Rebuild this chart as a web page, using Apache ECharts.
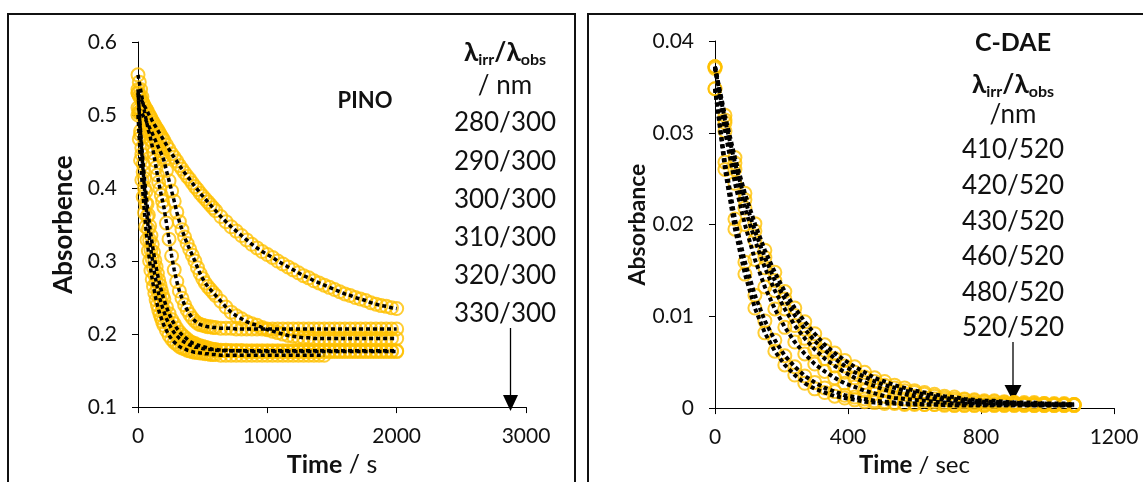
<!DOCTYPE html>
<html>
<head>
<meta charset="utf-8">
<script src="https://cdn.jsdelivr.net/npm/echarts@6/dist/echarts.min.js"></script>
<style>
  html, body { margin: 0; padding: 0; background: #fff; }
  #chart { width: 1143px; height: 482px; }
</style>
</head>
<body>
<div id="chart"></div>
<script>
// ---------- PINO panel: time axis (s) and absorbance at 300 nm ----------
const pinoTime = [0,10,20,30,40,50,60,70,80,90,100,110,120,130,140,150,160,170,180,190,200,
  220,240,260,280,300,320,340,360,380,400,420,440,460,480,500,520,540,560,580,600,
  640,680,720,760,800,840,880,920,960,1000,1040,1080,1120,1160,1200,1240,1280,1320,1360,1400,
  1440,1480,1520,1560,1600,1640,1680,1720,1760,1800,1840,1880,1920,1960,2000];

const pino280 = [0.530,0.526,0.523,0.519,0.516,0.512,0.509,0.506,0.502,0.499,0.496,0.492,0.489,0.486,0.483,0.480,0.477,0.474,0.471,0.468,0.465,
  0.459,0.453,0.447,0.442,0.437,0.431,0.426,0.421,0.416,0.412,0.407,0.402,0.398,0.393,0.389,0.385,0.381,0.377,0.373,0.369,
  0.361,0.354,0.347,0.341,0.335,0.329,0.323,0.318,0.313,0.309,0.305,0.300,0.296,0.292,0.288,0.284,0.280,0.277,0.273,0.270,
  0.267,0.264,0.261,0.258,0.255,0.253,0.250,0.248,0.246,0.243,0.241,0.239,0.238,0.236,0.235];

const pino290 = [0.510,0.508,0.505,0.502,0.499,0.496,0.493,0.489,0.486,0.482,0.479,0.475,0.471,0.467,0.463,0.459,0.455,0.451,0.447,0.443,0.438,
  0.424,0.410,0.396,0.382,0.367,0.354,0.343,0.333,0.324,0.316,0.308,0.300,0.291,0.283,0.276,0.270,0.265,0.261,0.257,0.253,
  0.245,0.237,0.230,0.225,0.221,0.217,0.214,0.212,0.209,0.206,0.204,0.202,0.200,0.198,0.197,0.196,0.195,0.195,0.194,0.194,
  0.194,0.194,0.194,0.194,0.194,0.194,0.194,0.194,0.194,0.194,0.194,0.194,0.194,0.194,0.194];

const pino300 = [0.555,0.545,0.535,0.525,0.515,0.505,0.496,0.488,0.479,0.474,0.466,0.457,0.448,0.438,0.428,0.418,0.408,0.399,0.390,0.382,0.374,
  0.352,0.330,0.307,0.288,0.272,0.259,0.249,0.240,0.233,0.227,0.222,0.218,0.215,0.213,0.212,0.211,0.210,0.210,0.209,0.209,
  0.208,0.208,0.208,0.207,0.207,0.207,0.207,0.207,0.207,0.207,0.207,0.207,0.207,0.207,0.207,0.207,0.207,0.207,0.207,0.207,
  0.207,0.207,0.207,0.207,0.207,0.207,0.207,0.207,0.207,0.207,0.207,0.207,0.207,0.207,0.207];

const pino310 = [0.530,0.503,0.478,0.455,0.433,0.413,0.395,0.378,0.363,0.348,0.335,0.323,0.312,0.301,0.292,0.283,0.274,0.267,0.260,0.253,0.248,
  0.237,0.228,0.220,0.214,0.208,0.203,0.199,0.196,0.193,0.190,0.188,0.187,0.185,0.184,0.183,0.182,0.181,0.180,0.179,0.179,
  0.178,0.178,0.177,0.177,0.177,0.176,0.176,0.176,0.176,0.176,0.176,0.176,0.176,0.176,0.176,0.176,0.176,0.176,0.176,0.176,
  0.176,0.176,0.176,0.176,0.176,0.176,0.176,0.176,0.176,0.176,0.176,0.176,0.176,0.176,0.176];

const pino320 = [0.535,0.503,0.473,0.446,0.422,0.400,0.379,0.361,0.344,0.329,0.315,0.303,0.291,0.281,0.272,0.263,0.255,0.248,0.242,0.236,0.231,
  0.221,0.214,0.207,0.202,0.198,0.194,0.191,0.189,0.187,0.185,0.184,0.182,0.182,0.181,0.180,0.180,0.179,0.179,0.178,0.178,
  0.177,0.177,0.177,0.177,0.177,0.177,0.177,0.177,0.177,0.177,0.177,0.177,0.177,0.177,0.177,0.177,0.177,0.177,0.177,0.177,
  0.177,0.177,0.177,0.177,0.177,0.177,0.177,0.177,0.177,0.177,0.177,0.177,0.177,0.177,0.177];

const pino330 = [0.500,0.467,0.438,0.411,0.388,0.366,0.347,0.329,0.314,0.300,0.287,0.275,0.265,0.256,0.247,0.240,0.233,0.227,0.222,0.217,0.212,
  0.205,0.198,0.193,0.189,0.186,0.183,0.181,0.180,0.178,0.177,0.176,0.175,0.175,0.174,0.174,0.173,0.173,0.172,0.172,0.172,
  0.171,0.171,0.171,0.171,0.171,0.171,0.171,0.171,0.171,0.171,0.171,0.171,0.171,0.171,0.171,0.171,0.171,0.171,0.171,0.171,
  0.171,null,null,null,null,null,null,null,null,null,null,null,null,null,null];

const pinoSeries = [pino280, pino290, pino300, pino310, pino320, pino330];
const pinoLabels = ['280/300','290/300','300/300','310/300','320/300','330/300'];

// ---------- C-DAE panel: time axis (sec) and absorbance at 520 nm ----------
const daeTime = [0,30,60,90,120,150,180,210,240,270,300,330,360,390,420,450,480,510,540,570,600,
  630,660,690,720,750,780,810,840,870,900,930,960,990,1020,1050,1080];

const dae410 = [0.0372,0.0319,0.0273,0.0234,0.0201,0.0172,0.0148,0.0127,0.0109,0.0094,0.0081,0.0069,0.0060,0.0052,0.0045,0.0039,0.0033,0.0029,0.0025,0.0022,0.0019,
  0.0017,0.0015,0.0013,0.0012,0.0010,0.0009,0.0008,0.0008,0.0007,0.0006,0.0006,0.0006,0.0005,0.0005,0.0005,0.0004];
const dae420 = [0.0370,0.0314,0.0267,0.0227,0.0193,0.0164,0.0139,0.0119,0.0101,0.0086,0.0073,0.0063,0.0054,0.0046,0.0039,0.0034,0.0029,0.0025,0.0022,0.0019,0.0017,
  0.0015,0.0013,0.0011,0.0010,0.0009,0.0008,0.0007,0.0007,0.0006,0.0006,0.0005,0.0005,0.0005,0.0004,0.0004,0.0004];
const dae430 = [0.0372,0.0311,0.0260,0.0218,0.0183,0.0153,0.0128,0.0108,0.0090,0.0076,0.0064,0.0054,0.0046,0.0039,0.0033,0.0028,0.0024,0.0020,0.0017,0.0015,0.0013,
  0.0011,0.0010,0.0009,0.0008,0.0007,0.0006,0.0006,0.0005,0.0005,0.0005,0.0004,0.0004,0.0004,0.0004,0.0004,0.0004];
const dae460 = [0.0372,0.0302,0.0245,0.0200,0.0162,0.0132,0.0108,0.0088,0.0072,0.0059,0.0048,0.0040,0.0033,0.0027,0.0023,0.0019,0.0016,0.0013,0.0011,0.0010,0.0009,
  0.0008,0.0007,0.0006,0.0005,0.0005,0.0005,0.0004,0.0004,0.0004,0.0004,0.0004,0.0003,0.0003,0.0003,0.0003,0.0003];
const dae480 = [0.0348,0.0268,0.0206,0.0159,0.0123,0.0095,0.0074,0.0057,0.0045,0.0035,0.0028,0.0022,0.0018,0.0014,0.0012,0.0010,0.0008,0.0007,0.0006,0.0005,0.0005,
  0.0004,0.0004,0.0004,0.0003,0.0003,0.0003,0.0003,0.0003,0.0003,0.0003,0.0003,0.0003,0.0003,0.0003,0.0003,0.0003];
const dae520 = [0.0348,0.0260,0.0195,0.0146,0.0109,0.0082,0.0062,0.0047,0.0036,0.0027,0.0021,0.0017,0.0013,0.0011,0.0009,0.0007,0.0006,0.0005,0.0005,0.0004,0.0004,
  0.0004,0.0004,0.0003,0.0003,0.0003,0.0003,0.0003,0.0003,0.0003,0.0003,0.0003,0.0003,0.0003,0.0003,0.0003,0.0003];

const daeSeries = [dae410, dae420, dae430, dae460, dae480, dae520];
const daeLabels = ['410/520','420/520','430/520','460/520','480/520','520/520'];

// ---------- build chart ----------
const FONT = 'Lato, "Open Sans", sans-serif';
const MARK = '#FFC000';
const INK = '#111';

function pairs(t, v) {
  const out = [];
  for (let i = 0; i < t.length; i++) if (v[i] != null) out.push([t[i], v[i]]);
  return out;
}

function panelSeries(times, sets, axis, lineW, dash) {
  const out = [];
  sets.forEach(v => {
    out.push({
      type: 'scatter', xAxisIndex: axis, yAxisIndex: axis, data: pairs(times, v),
      symbol: 'circle', symbolSize: 13, silent: true, z: 2,
      itemStyle: { color: 'rgba(255,255,255,0)', borderColor: MARK, borderWidth: 2 }
    });
  });
  sets.forEach(v => {
    out.push({
      type: 'line', xAxisIndex: axis, yAxisIndex: axis, data: pairs(times, v),
      showSymbol: false, silent: true, z: 3,
      lineStyle: { color: '#000', width: lineW, type: dash }
    });
  });
  return out;
}

// plain numbers on the ticks (no thousands separators)
const plain = v => String(Math.round(v * 10000) / 10000);

const axisCommon = {
  axisLine: { show: true, onZero: false, lineStyle: { color: '#000', width: 1 } },
  axisTick: { show: true, inside: false, length: 6, lineStyle: { color: '#000', width: 1 } },
  splitLine: { show: false },
  axisLabel: { color: INK, fontFamily: FONT, fontSize: 21, formatter: plain }
};

function xAxis(grid, max, interval, unit, size) {
  return Object.assign({}, axisCommon, {
    type: 'value', gridIndex: grid, min: 0, max: max, interval: interval,
    axisLabel: Object.assign({}, axisCommon.axisLabel, { margin: 19 }),
    name: '{b|Time} / ' + unit, nameLocation: 'middle', nameGap: 41,
    nameTextStyle: {
      color: INK, fontFamily: FONT, fontSize: size,
      rich: { b: { fontFamily: FONT, fontSize: size, fontWeight: 'bold', color: INK } }
    }
  });
}

function yAxis(grid, min, max, interval, name, nameSize, gap) {
  return Object.assign({}, axisCommon, {
    type: 'value', gridIndex: grid, min: min, max: max, interval: interval,
    axisLabel: Object.assign({}, axisCommon.axisLabel, { margin: 21 }),
    name: name, nameLocation: 'middle', nameGap: gap,
    nameTextStyle: { color: INK, fontFamily: FONT, fontSize: nameSize, fontWeight: 'bold' }
  });
}

function txt(x, y, text, size, bold) {
  return {
    type: 'text', x: x, y: y, silent: true,
    style: { text: text, fill: INK, font: (bold ? 'bold ' : '') + size + 'px ' + FONT,
             align: 'center', verticalAlign: 'middle' }
  };
}

function lambdaHeader(x, y) {
  return {
    type: 'text', x: x, y: y, silent: true,
    style: {
      text: '{b|λ}{s|irr}{b|/λ}{s|obs}', align: 'center', verticalAlign: 'middle',
      rich: {
        b: { fontFamily: FONT, fontSize: 26, fontWeight: 'bold', fill: INK, color: INK, lineHeight: 30, verticalAlign: 'middle' },
        s: { fontFamily: FONT, fontSize: 16, fontWeight: 'bold', fill: INK, color: INK, lineHeight: 30, verticalAlign: 'bottom' }
      }
    }
  };
}

function arrow(x, y0, y1, headH, headW) {
  return [
    { type: 'line', silent: true, shape: { x1: x, y1: y0, x2: x, y2: y1 - headH + 1 },
      style: { stroke: '#000', lineWidth: 1.3 } },
    { type: 'polygon', silent: true,
      shape: { points: [[x - headW / 2, y1 - headH], [x + headW / 2, y1 - headH], [x, y1]] },
      style: { fill: '#000' } }
  ];
}

const graphics = [
  { type: 'rect', silent: true, shape: { x: 8, y: 14, width: 567, height: 490 },
    style: { fill: 'none', stroke: '#111', lineWidth: 2 } },
  { type: 'rect', silent: true, shape: { x: 588, y: 14, width: 580, height: 490 },
    style: { fill: 'none', stroke: '#111', lineWidth: 2 } },
  txt(365, 101, 'PINO', 22, true),
  lambdaHeader(505, 53),
  txt(505, 86, '/ nm', 26, false),
  txt(1013, 43, 'C-DAE', 25, true),
  lambdaHeader(1013, 85),
  txt(1013, 115, '/nm', 26, false)
];
pinoLabels.forEach((s, i) => graphics.push(txt(505, 123 + i * 38.2, s, 26, false)));
daeLabels.forEach((s, i) => graphics.push(txt(1013, 150 + i * 35.6, s, 26, false)));
arrow(510.5, 328, 411, 16, 15).forEach(g => graphics.push(g));
arrow(1013, 342, 401, 16, 17).forEach(g => graphics.push(g));

const chart = echarts.init(document.getElementById('chart'), null, { renderer: 'canvas' });
chart.setOption({
  animation: false,
  backgroundColor: '#fff',
  grid: [
    { left: 138, top: 42, width: 388, height: 371 },
    { left: 715, top: 41, width: 399, height: 373 }
  ],
  xAxis: [ xAxis(0, 3000, 1000, 's', 25), xAxis(1, 1200, 400, 'sec', 24) ],
  yAxis: [
    yAxis(0, 0.1, 0.6, 0.1, 'Absorbence', 26, 61),
    yAxis(1, 0, 0.04, 0.01, 'Absorbance', 23, 64)
  ],
  series: panelSeries(pinoTime, pinoSeries, 0, 3.5, [4, 3]).concat(
          panelSeries(daeTime, daeSeries, 1, 4, [4, 3])),
  graphic: graphics
});
</script>
</body>
</html>
